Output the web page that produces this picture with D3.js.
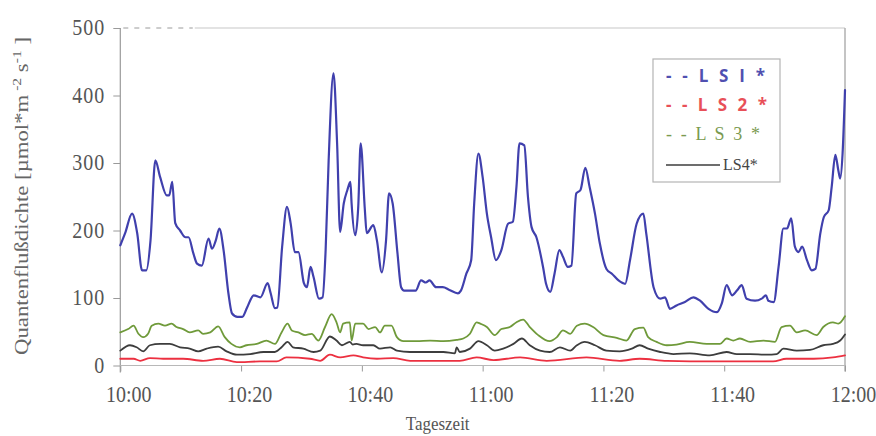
<!DOCTYPE html>
<html><head><meta charset="utf-8">
<script src="https://cdn.jsdelivr.net/npm/d3@7"></script>
<style>body{margin:0;background:#fff}svg{display:block}</style>
</head><body>
<svg id="chart" width="876" height="436"></svg>
<script>
// ---- data (minutes after 10:00, µmol m-2 s-1) ----
const xTicks = [0, 20, 40, 60, 80, 100, 120];
const xTickLabels = ["10:00", "10:20", "10:40", "11:00", "11:20", "11:40", "12:00"];
const yTicks = [0, 100, 200, 300, 400, 500];
const seriesNames = ["LS1*", "LS2*", "LS3*", "LS4*"];

const ls1Time = [0,0.8,1.95,2.8,3.6,4.3,5.0,5.8,6.6,7.7,8.1,8.6,9.1,9.9,10.8,11.3,12.1,12.7,13.5,14.6,15.2,15.8,16.4,17.1,17.9,18.5,19.4,20.2,21.0,22.1,23.2,24.4,24.9,25.6,26.0,26.8,27.6,28.2,28.9,29.5,30.4,30.9,31.5,32.0,32.9,33.5,34.0,34.5,35.3,35.9,36.4,37.0,37.6,38.1,38.3,38.9,39.4,39.8,40.5,40.8,41.9,42.5,43.3,44.0,44.5,45.1,45.9,46.5,47.0,48.1,48.9,49.8,50.6,51.2,52.3,53.4,54.5,55.9,56.4,57.3,58.1,58.6,59.3,60.0,60.7,61.4,62.2,63.1,64.2,65.0,65.6,66.1,66.9,67.5,68.1,68.9,70.0,70.5,71.2,71.9,72.7,73.3,74.1,74.7,75.5,76.2,77.0,77.7,78.6,79.4,80.5,81.4,82.5,83.6,84.4,85.5,86.6,87.1,88.3,89.4,90.2,91.0,92.1,93.5,94.9,96.0,97.4,98.8,99.6,100.4,101.3,102.1,102.9,103.7,105.1,106.2,106.9,107.3,108.2,109.0,109.8,110.4,111.1,111.7,112.3,112.9,113.7,114.5,115.1,115.9,116.5,117.3,117.8,118.4,118.9,119.2,119.6,120];
const ls1Value = [178,196,225,196,141,141,185,304,279,252,252,272,211,200,190,190,166,151,148,188,173,185,203,171,107,77,72,72,86,104,101,122,107,85,86,176,235,211,168,168,122,116,146,131,99,101,171,304,433,329,198,240,260,272,240,193,235,329,230,196,208,185,138,185,255,240,166,116,111,111,111,126,123,126,116,116,112,107,111,136,156,240,314,279,225,190,156,171,210,213,265,329,326,250,205,190,146,121,109,136,171,161,146,148,255,260,293,265,225,181,143,136,126,121,156,210,225,195,116,99,101,84,89,94,101,96,84,79,92,119,104,111,119,99,96,99,104,96,94,146,203,203,218,176,168,176,156,141,143,195,220,230,265,312,289,277,314,408];

const ls2Time = [0,2.2,3.3,4.9,7.1,10.4,13.7,16.5,19.3,23.1,25.9,27.5,31.4,33.1,34.7,36.4,38.6,40.2,42.5,45.2,48.0,53.5,56.2,59.0,61.8,66.2,70.6,77.2,82.7,86.0,90.5,98.2,103.7,108.1,110.3,114.8,118.0,120];
const ls2Value = [10,10,7,11,10,10,7,10,5,6,6,12,10,7,16,12,15,12,10,11,7,7,7,12,8,12,7,12,7,10,7,6,6,6,10,10,12,15];

const ls3Time = [0,1.3,2.2,3.0,3.8,4.6,5.2,6.3,7.4,8.5,9.3,10.4,11.5,12.9,13.7,14.9,16.2,17.3,18.4,19.8,20.9,22.6,24.2,25.6,26.7,27.7,28.4,29.5,30.6,31.7,32.8,33.9,35.0,35.8,36.4,36.9,38.0,38.3,38.9,40.2,41.1,42.2,43.0,43.8,44.9,45.8,46.9,49.1,51.3,53.5,55.7,56.8,57.9,59.0,59.6,60.7,62.0,63.1,64.5,65.6,66.7,67.8,69.2,71.1,72.3,73.3,74.5,75.6,76.9,78.3,80.0,82.2,83.8,85.2,86.6,87.4,88.8,90.5,92.1,94.3,97.1,99.3,100.4,101.5,102.6,104.3,106.5,108.4,109.5,110.9,112.0,113.4,115.3,116.4,118.0,118.9,120];
const ls3Value = [49,54,59,47,42,47,59,62,59,62,57,54,49,52,47,49,58,42,32,27,30,32,37,32,49,62,52,49,45,47,37,57,76,64,49,62,64,37,62,62,54,57,49,59,59,42,36,36,37,36,38,40,47,64,62,57,45,54,57,64,68,57,45,36,42,52,47,59,62,57,45,41,37,54,56,42,35,30,31,35,32,32,40,37,40,35,37,35,57,59,49,52,45,57,64,62,73];

const ls4Time = [0,1.6,2.7,3.8,4.9,6.6,8.2,9.9,11.5,12.9,14.3,16.2,17.6,19.3,21.5,23.7,25.6,26.7,27.7,28.6,30.3,32.0,33.1,34.7,35.8,36.7,38.0,38.5,39.1,40.2,41.9,43.0,44.7,45.8,48.0,50.7,53.5,55.4,55.7,56.2,57.9,59.3,60.7,62.0,63.4,65.1,66.5,67.8,69.5,71.1,72.8,74.5,75.6,76.9,78.6,80.5,82.7,84.7,86.0,87.4,89.4,91.6,94.3,97.6,100.4,102.1,104.3,107.0,108.7,109.8,112.0,114.2,116.4,118.0,119.2,120];
const ls4Value = [22,30,27,21,30,32,32,27,25,21,25,28,21,16,17,20,20,27,35,27,25,20,22,43,37,30,35,31,32,30,30,25,27,22,20,20,20,18,27,20,25,36,30,22,25,32,40,30,22,20,27,22,30,35,30,22,21,25,30,25,20,17,18,15,20,17,17,16,17,25,22,23,30,32,37,46];

// ---- drawing ----
const svg = d3.select("#chart");
const x = d3.scaleLinear().domain([0, 120]).range([120.3, 845]);
const y = d3.scaleLinear().domain([0, 500]).range([365.5, 28]);
const axisColor = "#9a9a9a";
const serif = "'Liberation Serif','DejaVu Serif',serif";
const sans = "'Open Sans','DejaVu Sans',sans-serif";
const vs = 1.15; // vertical stretch of the scanned lettering

// frame: top (partly dashed) and right border
svg.append("line").attr("x1", x(0)+3).attr("x2", x(12)).attr("y1", y(500)).attr("y2", y(500))
  .attr("stroke", axisColor).attr("stroke-width", 1).attr("stroke-dasharray", "5,6");
svg.append("line").attr("x1", x(12)+2).attr("x2", x(120)).attr("y1", y(500)).attr("y2", y(500))
  .attr("stroke", "#c8c8c8").attr("stroke-width", 1.2);
svg.append("line").attr("x1", x(120)).attr("x2", x(120)).attr("y1", y(500)).attr("y2", y(0)+6)
  .attr("stroke", "#b0b0b0").attr("stroke-width", 1.5);

// y axis
const yAxis = svg.append("g").attr("transform", `translate(${x(0)},0)`)
  .call(d3.axisLeft(y).tickValues(yTicks).tickSize(7).tickPadding(8));
yAxis.select(".domain").remove();
yAxis.append("line").attr("x1", 0).attr("x2", 0).attr("y1", y(500)).attr("y2", y(0)+7)
  .attr("stroke", axisColor).attr("stroke-width", 1.2);
yAxis.selectAll(".tick line").attr("stroke", axisColor);
yAxis.selectAll(".tick text").attr("font-family", serif).attr("font-size", 20).attr("fill", "#555")
  .attr("letter-spacing", 1).attr("dy", "0.3em").attr("transform", `scale(1,${vs})`);

// x axis
const xAxis = svg.append("g").attr("transform", `translate(0,${y(0)})`)
  .call(d3.axisBottom(x).tickValues(xTicks).tickFormat((d, i) => xTickLabels[i]).tickSize(6).tickPadding(12));
xAxis.select(".domain").remove();
xAxis.append("line").attr("x1", x(0)).attr("x2", x(120)).attr("y1", 0).attr("y2", 0)
  .attr("stroke", "#b8b8b8").attr("stroke-width", 1.2);
xAxis.selectAll(".tick line").attr("stroke", axisColor);
xAxis.selectAll(".tick text").attr("font-family", serif).attr("font-size", 20).attr("fill", "#555")
  .attr("dx", 8).attr("dy", 0).attr("y", 36.5 / vs).attr("transform", `scale(1,${vs})`);

// axis titles
svg.append("text").attr("transform", `translate(${(x(0)+x(120))/2 - 45},430) scale(1,${vs})`).attr("text-anchor", "middle")
  .attr("font-family", serif).attr("font-size", 17).attr("fill", "#555").text("Tageszeit");
const yt = svg.append("text").attr("transform", `translate(28,${196}) rotate(-90)`).attr("text-anchor", "middle")
  .attr("font-family", serif).attr("font-size", 19).attr("fill", "#666")
  .attr("textLength", 318).attr("lengthAdjust", "spacingAndGlyphs");
yt.append("tspan").text("Quantenflußdichte [µmol*m");
yt.append("tspan").attr("dy", -7).attr("font-size", 13).text(" -2");
yt.append("tspan").attr("dy", 7).text(" s");
yt.append("tspan").attr("dy", -7).attr("font-size", 13).text("-1");
yt.append("tspan").attr("dy", 7).text(" ]");

// lines
const line = d3.line().x(d => x(d[0])).y(d => y(d[1])).curve(d3.curveMonotoneX);
const series = [
  {t: ls3Time, v: ls3Value, c: "#6f9a3a", w: 1.8},
  {t: ls4Time, v: ls4Value, c: "#3d3d3d", w: 1.8},
  {t: ls2Time, v: ls2Value, c: "#ec3040", w: 1.8},
  {t: ls1Time, v: ls1Value, c: "#4040ad", w: 2.2},
];
series.forEach(s => {
  svg.append("path").datum(d3.zip(s.t, s.v)).attr("d", line)
    .attr("fill", "none").attr("stroke", s.c).attr("stroke-width", s.w)
    .attr("stroke-linejoin", "round").attr("stroke-linecap", "round");
});

// legend
const lg = svg.append("g");
lg.append("rect").attr("x", 653).attr("y", 59).attr("width", 127).attr("height", 123)
  .attr("fill", "#fff").attr("stroke", "#b4b4b4").attr("stroke-width", 1.2);
const rows = [
  {label: "- - L S I *", c: "#5050b0", f: sans, w: "bold", s: 17, y: 82, len: 99},
  {label: "- - L S 2 *", c: "#e85058", f: sans, w: "bold", s: 17, y: 111, len: 101},
  {label: "- - L S 3 *", c: "#7a9a50", f: serif, w: "normal", s: 18, y: 140, len: 94},
];
rows.forEach(r => {
  lg.append("text").attr("x", 666).attr("y", r.y).attr("font-family", r.f).attr("font-weight", r.w)
    .attr("font-size", r.s).attr("fill", r.c).attr("textLength", r.len).attr("lengthAdjust", "spacing")
    .text(r.label);
});
lg.append("line").attr("x1", 666).attr("x2", 720).attr("y1", 165).attr("y2", 165)
  .attr("stroke", "#3d3d3d").attr("stroke-width", 1.4);
lg.append("text").attr("x", 723).attr("y", 170).attr("font-family", serif).attr("font-size", 16)
  .attr("fill", "#444").text(seriesNames[3]);
</script>
</body></html>
